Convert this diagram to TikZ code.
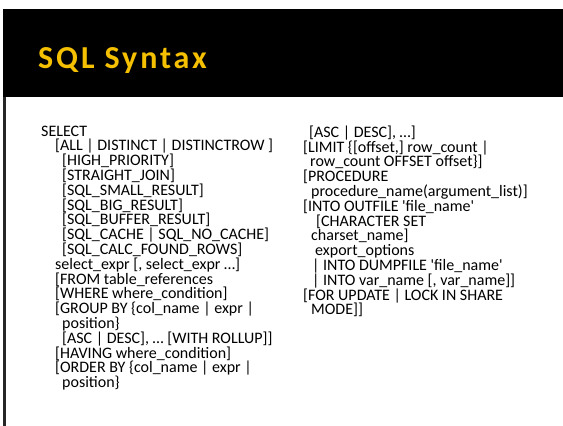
\documentclass[tikz,border=0pt]{standalone}
\usepackage{fontspec}
\setmainfont{Carlito}
\usepackage{tikz}
\definecolor{titlegold}{HTML}{F5C000}
\newcommand{\ind}[1]{\hspace*{#1pt}}
\newcommand{\q}{\textquotesingle}
\newcommand{\sqlfont}{\fontsize{16}{14.8}\selectfont
  \setlength{\lineskiplimit}{-20pt}\setlength{\lineskip}{0pt}}

\begin{document}
\begin{tikzpicture}[x=1pt,y=-1pt]
  \tikzset{sqltext/.style={anchor=north west,inner sep=0pt,align=left,
      font=\sqlfont}}
  \useasboundingbox (0,0) rectangle (563,426);
  \fill[black] (3,9) rectangle (563,97);
  \draw[black!85,line width=2.5pt] (4.5,97) -- (4.5,426);
  \node[anchor=base west,inner sep=0pt,text=titlegold,
    font=\bfseries\fontsize{32}{32}\selectfont\addfontfeatures{LetterSpace=9}] (title) at (38,68) {SQL Syntax};
  \node[sqltext] (leftcol) at (41,125.6) {SELECT\\
    \ind{14}[ALL | DISTINCT | DISTINCTROW ]\\
    \ind{21}[HIGH\_PRIORITY]\\
    \ind{21}[STRAIGHT\_JOIN]\\
    \ind{21}[SQL\_SMALL\_RESULT]\\
    \ind{21}[SQL\_BIG\_RESULT]\\
    \ind{21}[SQL\_BUFFER\_RESULT]\\
    \ind{21}[SQL\_CACHE | SQL\_NO\_CACHE]\\
    \ind{21}[SQL\_CALC\_FOUND\_ROWS]\\
    \ind{14}select\_expr [, select\_expr …]\\
    \ind{14}[FROM table\_references\\
    \ind{14}[WHERE where\_condition]\\
    \ind{14}[GROUP BY \{col\_name | expr |\\
    \ind{21}position\}\\
    \ind{21}[ASC | DESC], … [WITH ROLLUP]]\\
    \ind{14}[HAVING where\_condition]\\
    \ind{14}[ORDER BY \{col\_name | expr |\\
    \ind{21}position\}};
  \node[sqltext] (rightcol) at (303,125.6) {\ind{6}[ASC | DESC], …]\\
    {}[LIMIT \{[offset,] row\_count |\\
    \ind{7}row\_count OFFSET offset\}]\\
    {}[PROCEDURE\\
    \ind{8}procedure\_name(argument\_list)]\\
    {}[INTO OUTFILE \q file\_name\q\\
    \ind{13}[CHARACTER SET\\
    \ind{8}charset\_name]\\
    \ind{12}export\_options\\
    \ind{9}| INTO DUMPFILE \q file\_name\q\\
    \ind{9}| INTO var\_name [, var\_name]]\\
    {}[FOR UPDATE | LOCK IN SHARE\\
    \ind{8}MODE]]};
\end{tikzpicture}
\end{document}
